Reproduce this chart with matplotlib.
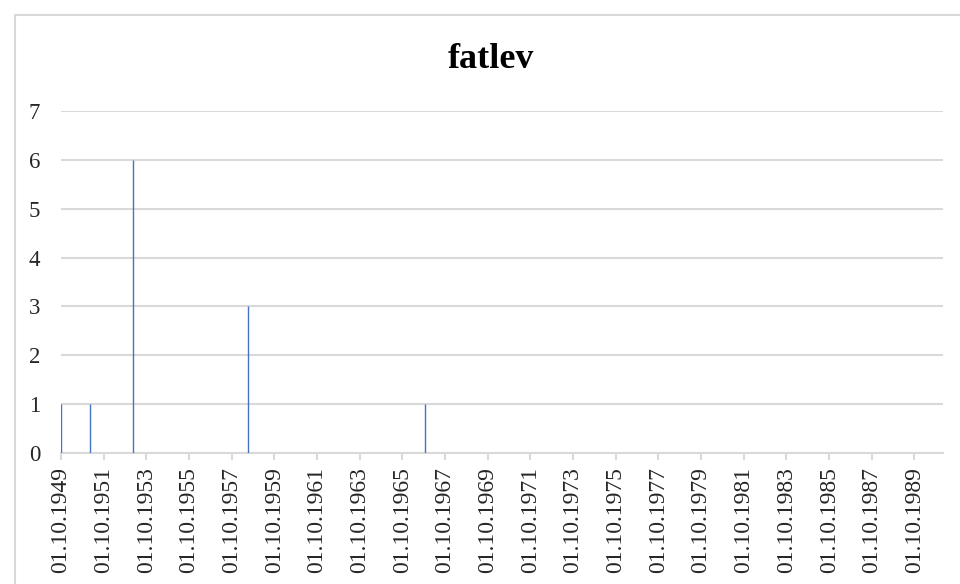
import matplotlib
matplotlib.use("Agg")
import matplotlib.pyplot as plt
from matplotlib.patches import Rectangle
import datetime as dt

title = "fatlev"
event_dates = ["1949-10-01", "1951-02-15", "1953-02-15", "1958-07-15", "1966-10-20"]
event_values = [1, 1, 6, 3, 1]
tick_years = list(range(1949, 1990, 2))
x_start = "1949-10-01"
x_end = "1991-02-01"
y_max = 7

dates = [dt.datetime.strptime(d, "%Y-%m-%d") for d in event_dates]
ticks = [dt.datetime(y, 10, 1) for y in tick_years]

fig = plt.figure(figsize=(9.6, 5.84), dpi=100)
fig.patch.set_facecolor("white")
fig.patches.append(Rectangle((15/960, -0.1), 1.2, (584-15)/584 + 0.1, transform=fig.transFigure,
                             fill=False, edgecolor="#d9d9d9", linewidth=1.5))

ax = fig.add_axes([61/960, (584-453)/584, (943-61)/960, (453-111)/584])
ax.vlines(dates, 0, event_values, colors="#4472C4", linewidth=1.0, zorder=3)

ax.set_xlim(dt.datetime.strptime(x_start, "%Y-%m-%d"), dt.datetime.strptime(x_end, "%Y-%m-%d"))
ax.set_ylim(0, y_max)
ax.set_yticks(range(0, y_max + 1))
ax.grid(axis="y", color="#d9d9d9", linewidth=1.5, zorder=0)
ax.set_axisbelow(True)
ax.set_xticks(ticks)
ax.set_xticklabels([t.strftime("%d.%m.%Y") for t in ticks], rotation=90,
                   fontsize=17, family="Liberation Serif", color="#262626")
for lab in ax.get_yticklabels():
    lab.set_fontsize(16.5)
    lab.set_family("Liberation Serif")
    lab.set_color("#262626")
ax.tick_params(axis="x", length=5, color="#d9d9d9", width=1.5, pad=5)
ax.tick_params(axis="y", length=0, pad=15)
for s in ["top", "right", "left"]:
    ax.spines[s].set_visible(False)
ax.spines["bottom"].set_color("#d9d9d9")
ax.spines["bottom"].set_linewidth(1.5)

fig.text(491/960, 1 - 59/584, title, ha="center", va="center", fontsize=26,
         fontweight="bold", family="Liberation Serif")

fig.savefig("out.png", dpi=100)
